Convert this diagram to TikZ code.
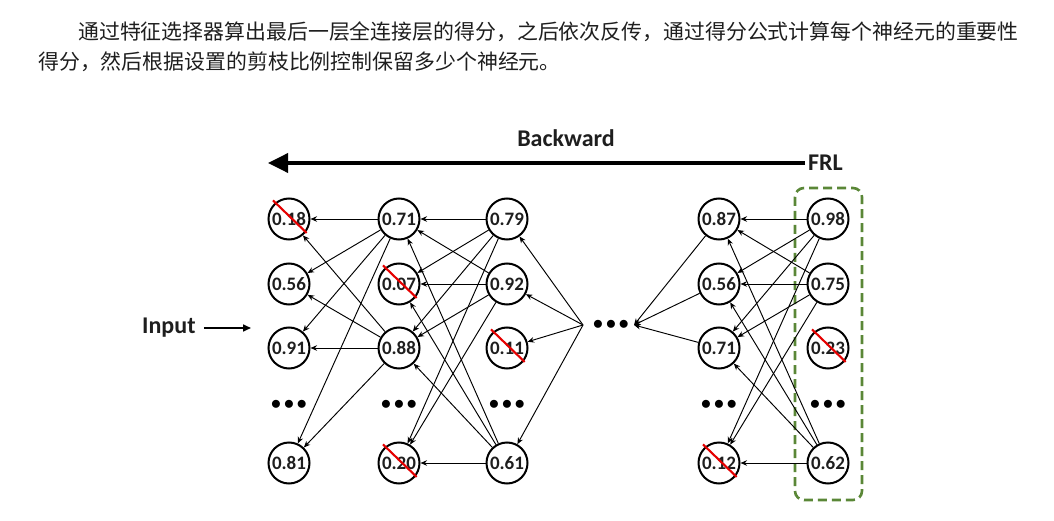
\documentclass[tikz,border=0pt]{standalone}
\usepackage{fontspec}
\setmainfont{Carlito}
\newfontfamily\cjk{Noto Sans CJK SC}
\usetikzlibrary{arrows.meta,calc}
\definecolor{frlgreen}{RGB}{90,135,55}
\definecolor{txtgray}{RGB}{30,30,30}
\tikzset{
  neuron/.style={circle, draw, line width=2pt, minimum size=41pt, inner sep=0pt,
    font=\fontsize{19}{19}\selectfont\bfseries, text=txtgray},
  conn/.style={-{Stealth[length=6.5pt,width=5.5pt]}, line width=0.95pt},
  strike/.style={red!90!black, line width=2.1pt, shorten <=-3pt, shorten >=-1pt},
  dotsnode/.style={inner sep=0pt, font=\fontsize{20}{20}\selectfont},
  lbl/.style={font=\fontsize{24}{24}\selectfont\bfseries, text=txtgray},
}
\newcommand{\threedots}{$\bullet$\hspace{2.5pt}$\bullet$\hspace{2.5pt}$\bullet$}
\begin{document}
\begin{tikzpicture}[x=1pt,y=-1pt]
\useasboundingbox (0,0) rectangle (1054,521);
% caption text
\node[anchor=west, inner sep=0pt, text=txtgray, font=\cjk\fontsize{20.9}{22}\selectfont] (t1) at (78,32)
  {通过特征选择器算出最后一层全连接层的得分，之后依次反传，通过得分公式计算每个神经元的重要性};
\node[anchor=west, inner sep=0pt, text=txtgray, font=\cjk\fontsize{20.9}{22}\selectfont] (t2) at (38,62)
  {得分，然后根据设置的剪枝比例控制保留多少个神经元。};
% Backward arrow
\node[lbl] (bw) at (566,138) {Backward};
\node[lbl, anchor=west, inner sep=0pt] (frl) at (808,163) {FRL};
\coordinate (bwend) at (268,163);
\draw[line width=3.6pt, -{Triangle[length=20pt,width=19pt]}] ([xshift=-3pt]frl.west) -- (bwend);
% Input
\node[lbl, anchor=west, inner sep=0pt] (inp) at (142,328) {Input};
\coordinate (inpend) at (251,328);
\draw[line width=1.6pt, -{Triangle[length=8pt,width=7pt]}] ([xshift=8pt]inp.east) -- (inpend);
% columns
\def\ya{219}\def\yb{284}\def\yc{348}\def\yd{405}\def\ye{463}
% col 1
\node[neuron] (a1) at (289,\ya) {0.18};
\node[neuron] (a2) at (289,\yb) {0.56};
\node[neuron] (a3) at (289,\yc) {0.91};
\node[dotsnode] (ad) at (289,\yd) {\threedots};
\node[neuron] (a5) at (289,\ye) {0.81};
% col 2
\node[neuron] (b1) at (399,\ya) {0.71};
\node[neuron] (b2) at (399,\yb) {0.07};
\node[neuron] (b3) at (399,\yc) {0.88};
\node[dotsnode] (bd) at (399,\yd) {\threedots};
\node[neuron] (b5) at (399,\ye) {0.20};
% col 3
\node[neuron] (c1) at (507,\ya) {0.79};
\node[neuron] (c2) at (507,\yb) {0.92};
\node[neuron] (c3) at (507,\yc) {0.11};
\node[dotsnode] (cd) at (507,\yd) {\threedots};
\node[neuron] (c5) at (507,\ye) {0.61};
% middle dots
\node[dotsnode] (md) at (611,325) {\threedots};
\coordinate (p3) at (583,325);
\coordinate (p4) at (634,325);
% col 4
\node[neuron] (d1) at (719,\ya) {0.87};
\node[neuron] (d2) at (719,\yb) {0.56};
\node[neuron] (d3) at (719,\yc) {0.71};
\node[dotsnode] (dd) at (719,\yd) {\threedots};
\node[neuron] (d5) at (719,\ye) {0.12};
% col 5
\node[neuron] (e1) at (828,\ya) {0.98};
\node[neuron] (e2) at (828,\yb) {0.75};
\node[neuron] (e3) at (828,\yc) {0.23};
\node[dotsnode] (ed) at (828,\yd) {\threedots};
\node[neuron] (e5) at (828,\ye) {0.62};
% FRL box
\draw[frlgreen, line width=2.6pt, dash pattern=on 9pt off 5pt, rounded corners=9pt] (795,188) rectangle (862,500);
% connections col2 -> col1
\foreach \s in {b1,b3}{
  \foreach \t in {a1,a2,a3,a5}{
    \draw[conn] (\s) -- (\t);
  }
}
% col3 -> col2
\foreach \s in {c1,c2,c5}{
  \foreach \t in {b1,b2,b3,b5}{
    \draw[conn] (\s) -- (\t);
  }
}
% p3 -> col3
\foreach \t in {c1,c2,c3,c5}{
  \draw[conn] (p3) -- (\t);
}
% col4 -> p4
\foreach \s in {d1,d2,d3}{
  \draw[conn] (\s) -- (p4);
}
% col5 -> col4
\foreach \s in {e1,e2,e5}{
  \foreach \t in {d1,d2,d3,d5}{
    \draw[conn] (\s) -- (\t);
  }
}
% strikes
\foreach \n in {a1,b2,b5,c3,d5,e3}{
  \draw[strike] (\n.130) -- (\n.-38);
}
\end{tikzpicture}
\end{document}
